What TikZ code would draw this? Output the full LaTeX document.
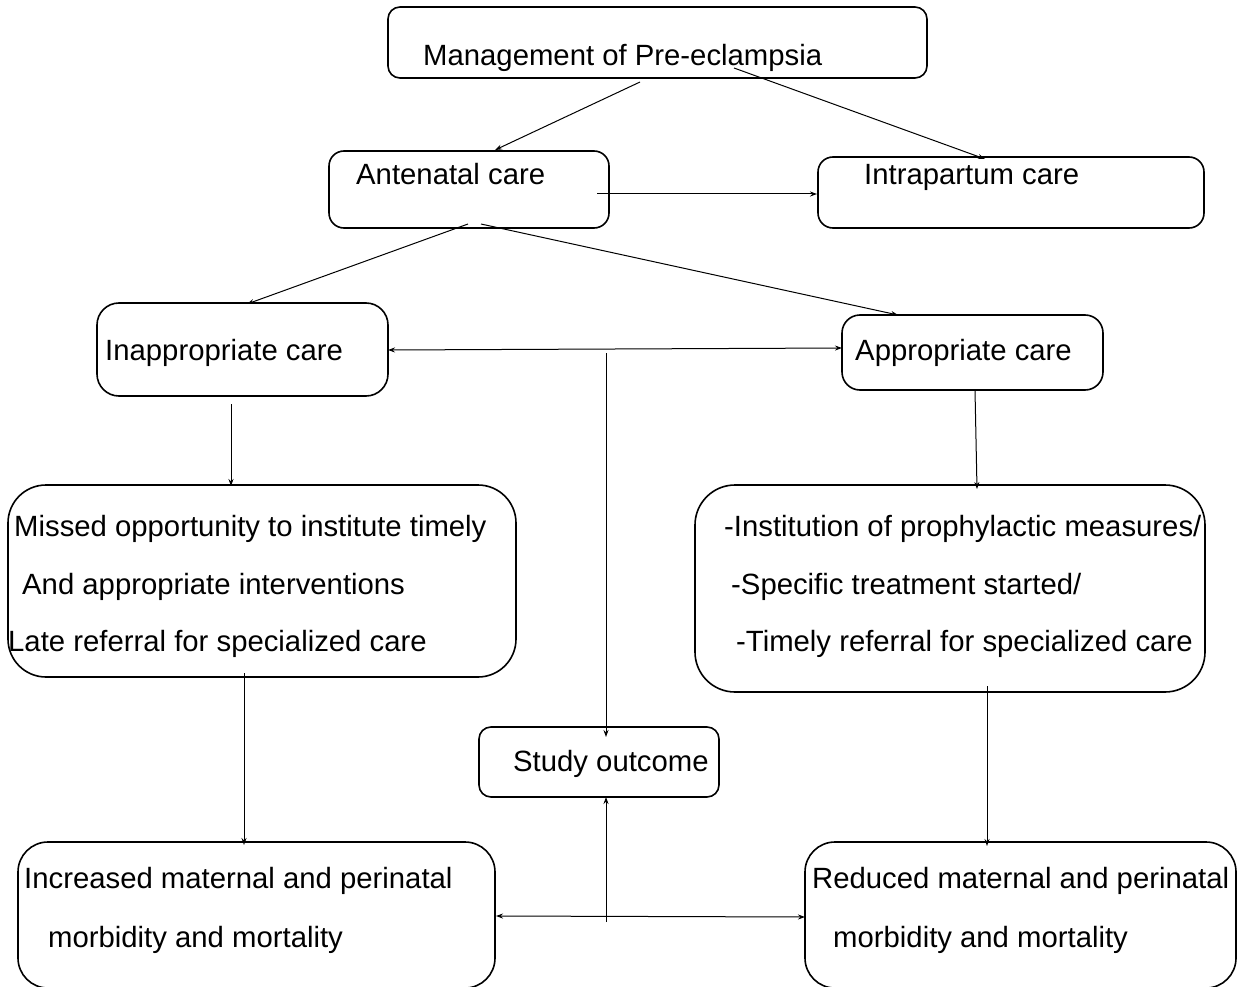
\documentclass[tikz,border=0pt]{standalone}
\usepackage{fontspec}
\setmainfont{Liberation Sans}
\usetikzlibrary{arrows.meta}
\begin{document}
\begin{tikzpicture}[x=1pt,y=-1pt,
  box/.style={draw, line width=1.6pt, inner sep=0pt},
  txt/.style={anchor=base west, inner sep=0pt, font=\fontsize{29.3}{35}\selectfont},
  arr/.style={line width=1pt, -{Stealth[length=7pt,width=5pt]}},
  darr/.style={line width=1pt, {Stealth[length=7pt,width=5pt]}-{Stealth[length=7pt,width=5pt]}},
  ln/.style={line width=1pt}]
\useasboundingbox[fill=white] (0,0) rectangle (1237,987);
% boxes
\node[box, rounded corners=12pt, minimum width=539pt, minimum height=71pt] (mgmt) at (657.5,42.5) {};
\node[box, rounded corners=15pt, minimum width=280pt, minimum height=77pt] (ante) at (469,189.5) {};
\node[box, rounded corners=15pt, minimum width=386pt, minimum height=71pt] (intra) at (1011,192.5) {};
\node[box, rounded corners=22pt, minimum width=291pt, minimum height=93pt] (inapp) at (242.5,349.5) {};
\node[box, rounded corners=18pt, minimum width=261pt, minimum height=75pt] (app) at (972.5,352.5) {};
\node[box, rounded corners=38pt, minimum width=508pt, minimum height=192pt] (missed) at (262,581) {};
\node[box, rounded corners=40pt, minimum width=510pt, minimum height=207pt] (inst) at (950,588.5) {};
\node[box, rounded corners=12pt, minimum width=240pt, minimum height=70pt] (study) at (599,762) {};
\node[box, rounded corners=30pt, minimum width=477pt, minimum height=146pt] (incr) at (256.5,915) {};
\node[box, rounded corners=30pt, minimum width=431pt, minimum height=146pt] (red) at (1020.5,915) {};
% texts
\node[txt] (t1) at (423,66) {Management of Pre-eclampsia};
\node[txt] (t2) at (356,185) {Antenatal care};
\node[txt] (t3) at (864,185) {Intrapartum care};
\node[txt] (t4) at (105,360) {Inappropriate care};
\node[txt] (t5) at (855,360) {Appropriate care};
\node[txt] (t6) at (14,536) {Missed opportunity to institute timely};
\node[txt] (t7) at (22,594) {And appropriate interventions};
\node[txt] (t8) at (8,651) {Late referral for specialized care};
\node[txt] (t9) at (724,536) {-Institution of prophylactic measures/};
\node[txt] (t10) at (731,594) {-Specific treatment started/};
\node[txt] (t11) at (736,651) {-Timely referral for specialized care};
\node[txt] (t12) at (513,771) {Study outcome};
\node[txt] (t13) at (24,888) {Increased maternal and perinatal};
\node[txt] (t14) at (48,947) {morbidity and mortality};
\node[txt] (t15) at (812,888) {Reduced maternal and perinatal};
\node[txt] (t16) at (833,947) {morbidity and mortality};
% connector end points
\coordinate (m1) at (640,82);
\coordinate (a1) at (495,150);
\coordinate (m2) at (734,68);
\coordinate (i1) at (985,159);
\coordinate (a2) at (597,194);
\coordinate (i2) at (817,194);
\coordinate (a3) at (468,224);
\coordinate (p1) at (247,304);
\coordinate (a4) at (481,224);
\coordinate (p2) at (898,315);
\coordinate (q1) at (388,350);
\coordinate (q2) at (842,348);
\coordinate (v1) at (606,353);
\coordinate (s1) at (606,737);
\coordinate (r1) at (231,404);
\coordinate (r2) at (231,486);
\coordinate (r3) at (975,390);
\coordinate (r4) at (977,489);
\coordinate (r5) at (244,673);
\coordinate (r6) at (244,845);
\coordinate (r7) at (987,686);
\coordinate (r8) at (987,846);
\coordinate (b1) at (496,916);
\coordinate (b2) at (805,917);
\coordinate (v2) at (606,922);
\coordinate (s2) at (606,797);
% connectors
\draw[arr] (m1) -- (a1);
\draw[arr] (m2) -- (i1);
\draw[arr] (a2) -- (i2);
\draw[arr] (a3) -- (p1);
\draw[arr] (a4) -- (p2);
\draw[darr] (q1) -- (q2);
\draw[arr] (v1) -- (s1);
\draw[arr] (r1) -- (r2);
\draw[arr] (r3) -- (r4);
\draw[arr] (r5) -- (r6);
\draw[arr] (r7) -- (r8);
\draw[darr] (b1) -- (b2);
\draw[arr] (v2) -- (s2);
\end{tikzpicture}
\end{document}
